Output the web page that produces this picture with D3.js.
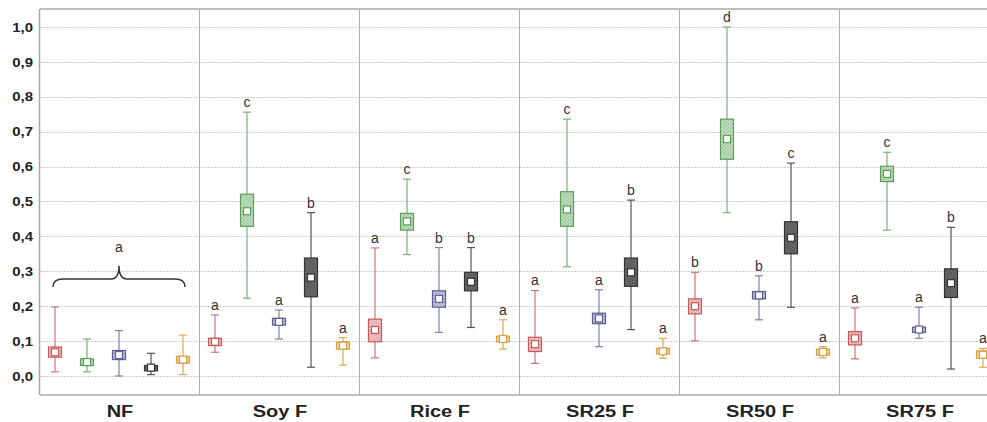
<!DOCTYPE html>
<html>
<head>
<meta charset="utf-8">
<script src="https://cdn.jsdelivr.net/npm/d3@7"></script>
<style>
  body { margin: 0; background: #fff; }
  text { font-family: "Liberation Sans", Arial, sans-serif; }
</style>
</head>
<body>
<div id="chart"></div>
<script>
var groups = ["NF", "Soy F", "Rice F", "SR25 F", "SR50 F", "SR75 F"];
var series = ["s1", "s2", "s3", "s4", "s5"];
var yTicks = [0, 0.1, 0.2, 0.3, 0.4, 0.5, 0.6, 0.7, 0.8, 0.9, 1.0];

// one row per group, one value per series (red, green, blue, black, orange)
var whiskerLow = [
  [0.012, 0.012, 0.000, 0.004, 0.004],
  [0.068, 0.223, 0.106, 0.025, 0.031],
  [0.052, 0.348, 0.125, 0.139, 0.077],
  [0.036, 0.313, 0.084, 0.133, 0.051],
  [0.101, 0.468, 0.161, 0.197, 0.052],
  [0.049, 0.418, 0.108, 0.020, 0.025]
];
var boxLow = [
  [0.054, 0.030, 0.047, 0.015, 0.037],
  [0.087, 0.429, 0.146, 0.227, 0.077],
  [0.098, 0.418, 0.197, 0.244, 0.098],
  [0.070, 0.429, 0.150, 0.257, 0.063],
  [0.178, 0.621, 0.221, 0.350, 0.060],
  [0.089, 0.557, 0.125, 0.225, 0.051]
];
var middle = [
  [0.068, 0.040, 0.060, 0.024, 0.047],
  [0.098, 0.472, 0.155, 0.282, 0.087],
  [0.132, 0.443, 0.221, 0.270, 0.106],
  [0.091, 0.477, 0.165, 0.297, 0.071],
  [0.200, 0.679, 0.231, 0.396, 0.069],
  [0.108, 0.579, 0.133, 0.266, 0.061]
];
var boxHigh = [
  [0.083, 0.049, 0.073, 0.030, 0.056],
  [0.108, 0.521, 0.165, 0.338, 0.097],
  [0.163, 0.466, 0.244, 0.297, 0.114],
  [0.111, 0.528, 0.180, 0.338, 0.079],
  [0.221, 0.736, 0.242, 0.442, 0.077],
  [0.127, 0.601, 0.140, 0.307, 0.072]
];
var whiskerHigh = [
  [0.198, 0.106, 0.130, 0.065, 0.117],
  [0.175, 0.756, 0.189, 0.468, 0.110],
  [0.367, 0.564, 0.368, 0.368, 0.161],
  [0.245, 0.736, 0.247, 0.504, 0.108],
  [0.297, 1.000, 0.287, 0.610, 0.084],
  [0.195, 0.641, 0.197, 0.426, 0.079]
];
var letters = [
  ["", "", "", "", ""],
  ["a", "c", "a", "b", "a"],
  ["a", "c", "b", "b", "a"],
  ["a", "c", "a", "b", "a"],
  ["b", "d", "b", "c", "a"],
  ["a", "c", "a", "b", "a"]
];
var nfLetter = "a";

var lineColors = ["#c45a5a", "#5a9e5a", "#5e5e92", "#333333", "#d6a040"];
var whiskerColors = ["#cc7777", "#7ab27a", "#8080a8", "#555555", "#d8ac5a"];
var fillColors = ["#f2c9c9", "#c3dfbf", "#c9c9e2", "#6a6a6a", "#f5dca8"];

var svgWidth = 987, svgHeight = 422;
var plotLeft = 40, plotTop = 9, plotBottom = 395;

var svg = d3.select("#chart").append("svg")
  .attr("width", svgWidth)
  .attr("height", svgHeight);

var defs = svg.append("defs");
series.forEach(function(s, i) {
  var p = defs.append("pattern")
    .attr("id", "hatch" + i)
    .attr("patternUnits", "userSpaceOnUse")
    .attr("width", 2.5).attr("height", 2.5)
    .attr("patternTransform", "rotate(45)");
  p.append("rect").attr("width", 2.5).attr("height", 2.5).attr("fill", fillColors[i]);
  p.append("line").attr("x1", 0).attr("y1", 0).attr("x2", 0).attr("y2", 2.5)
    .attr("stroke", lineColors[i]).attr("stroke-width", 1).attr("stroke-opacity", 0.8);
});

var x = d3.scaleBand().domain(groups).range([plotLeft, plotLeft + 160 * groups.length]);
var xs = d3.scaleBand().domain(series).range([0, x.bandwidth()]);
var y = d3.scaleLinear().domain([-0.0545, 1.0516]).range([plotBottom, plotTop]);

function cx(gi, si) { return x(groups[gi]) + xs(series[si]) + xs.bandwidth() / 2 - 1; }

// grid
svg.append("g").selectAll("line").data(yTicks).join("line")
  .attr("x1", plotLeft).attr("x2", svgWidth)
  .attr("y1", function(d) { return Math.round(y(d)) + 0.5; })
  .attr("y2", function(d) { return Math.round(y(d)) + 0.5; })
  .attr("stroke", "#cfcfcf").attr("stroke-dasharray", "2,1");

// frame and group separators
svg.append("line").attr("x1", plotLeft).attr("x2", svgWidth).attr("y1", plotTop).attr("y2", plotTop)
  .attr("stroke", "#a8a8a8").attr("stroke-width", 1.5);
svg.append("line").attr("x1", plotLeft).attr("x2", svgWidth).attr("y1", plotBottom).attr("y2", plotBottom)
  .attr("stroke", "#a8a8a8").attr("stroke-width", 1.5);
svg.append("line").attr("x1", plotLeft - 0.5).attr("x2", plotLeft - 0.5).attr("y1", plotTop).attr("y2", plotBottom)
  .attr("stroke", "#a8a8a8").attr("stroke-width", 1.5);
svg.append("g").selectAll("line").data(groups.slice(1)).join("line")
  .attr("x1", function(d) { return x(d) - 0.5; })
  .attr("x2", function(d) { return x(d) - 0.5; })
  .attr("y1", plotTop).attr("y2", plotBottom)
  .attr("stroke", "#b0b0b0").attr("stroke-width", 1);

// y axis labels (the source image is a little wider than tall, so stretch text)
var yAxis = svg.append("g")
  .attr("transform", "translate(" + (plotLeft - 7) + ",0)")
  .call(d3.axisLeft(y).tickValues(yTicks).tickSize(0).tickPadding(0)
    .tickFormat(function(d) { return d3.format(".1f")(d).replace(".", ","); }));
yAxis.select(".domain").remove();
yAxis.selectAll("text").attr("font-size", 13).attr("font-weight", "bold").attr("fill", "#222")
  .attr("font-family", "Liberation Sans, Arial, sans-serif")
  .attr("transform", "scale(1.15,1)");

// x axis labels
var xAxis = svg.append("g")
  .attr("transform", "translate(0," + plotBottom + ")")
  .call(d3.axisBottom(x).tickSize(0).tickPadding(11));
xAxis.select(".domain").remove();
xAxis.selectAll("text").attr("font-size", 16).attr("font-weight", "bold").attr("fill", "#222")
  .attr("font-family", "Liberation Sans, Arial, sans-serif")
  .attr("transform", "scale(1.25,1)");

// boxes
var cells = [];
groups.forEach(function(g, gi) {
  series.forEach(function(s, si) {
    cells.push({ gi: gi, si: si });
  });
});

var box = svg.append("g").selectAll("g").data(cells).join("g");
box.append("line")
  .attr("x1", function(d) { return cx(d.gi, d.si); })
  .attr("x2", function(d) { return cx(d.gi, d.si); })
  .attr("y1", function(d) { return y(whiskerLow[d.gi][d.si]); })
  .attr("y2", function(d) { return y(whiskerHigh[d.gi][d.si]); })
  .attr("stroke", function(d) { return whiskerColors[d.si]; }).attr("stroke-width", 1.2);
[whiskerLow, whiskerHigh].forEach(function(arr) {
  box.append("line")
    .attr("x1", function(d) { return cx(d.gi, d.si) - 4; })
    .attr("x2", function(d) { return cx(d.gi, d.si) + 4; })
    .attr("y1", function(d) { return y(arr[d.gi][d.si]); })
    .attr("y2", function(d) { return y(arr[d.gi][d.si]); })
    .attr("stroke", function(d) { return whiskerColors[d.si]; }).attr("stroke-width", 1.2);
});
box.append("rect")
  .attr("x", function(d) { return cx(d.gi, d.si) - 6.5; })
  .attr("width", 13)
  .attr("y", function(d) { return y(boxHigh[d.gi][d.si]); })
  .attr("height", function(d) { return y(boxLow[d.gi][d.si]) - y(boxHigh[d.gi][d.si]); })
  .attr("fill", function(d) { return "url(#hatch" + d.si + ")"; })
  .attr("stroke", function(d) { return lineColors[d.si]; }).attr("stroke-width", 1.2);
box.append("rect")
  .attr("x", function(d) { return cx(d.gi, d.si) - 3.5; })
  .attr("y", function(d) { return y(middle[d.gi][d.si]) - 3.5; })
  .attr("width", 7).attr("height", 7)
  .attr("fill", "#fff")
  .attr("stroke", function(d) { return lineColors[d.si]; }).attr("stroke-width", 1.2);

// significance letters
box.append("text")
  .attr("x", function(d) { return cx(d.gi, d.si); })
  .attr("y", function(d) { return y(whiskerHigh[d.gi][d.si]) - 5; })
  .attr("text-anchor", "middle")
  .attr("font-size", 14).attr("fill", "#333")
  .text(function(d) { return letters[d.gi][d.si]; });

// brace over NF
var bx0 = cx(0, 0) - 2, bx1 = cx(0, 4) + 2, bm = (bx0 + bx1) / 2;
var yEnd = y(0.255), yMid = y(0.278), yTip = y(0.316);
svg.append("path")
  .attr("d", "M" + bx0 + "," + yEnd +
    " Q" + bx0 + "," + yMid + " " + (bx0 + 10) + "," + yMid +
    " L" + (bm - 8) + "," + yMid +
    " Q" + bm + "," + yMid + " " + bm + "," + yTip +
    " Q" + bm + "," + yMid + " " + (bm + 8) + "," + yMid +
    " L" + (bx1 - 10) + "," + yMid +
    " Q" + bx1 + "," + yMid + " " + bx1 + "," + yEnd)
  .attr("fill", "none").attr("stroke", "#333").attr("stroke-width", 1.5);
svg.append("text")
  .attr("x", bm).attr("y", y(0.355))
  .attr("text-anchor", "middle")
  .attr("font-size", 14).attr("fill", "#333")
  .text(nfLetter);
</script>
</body>
</html>
